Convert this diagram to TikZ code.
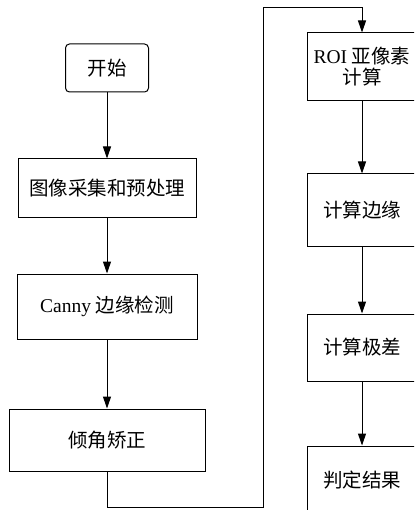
\documentclass[tikz,border=0pt]{standalone}
\usepackage{fontspec}
\setmainfont{Liberation Serif}
\newfontfamily\cjk{Noto Sans CJK SC}
\usetikzlibrary{arrows.meta}
\begin{document}
\begin{tikzpicture}[x=1pt,y=-1pt,
  box/.style={draw,line width=1pt,minimum height=#1,inner sep=0pt,align=center},
  arr/.style={line width=1pt,-{Triangle[length=12pt,width=8pt]}},
  every node/.style={font=\fontsize{19.5}{21}\selectfont}]
\useasboundingbox (0,0) rectangle (414,510);
\clip (0,0) rectangle (414,510);
\node[box=48pt,minimum width=83pt,rounded corners=4pt] (start) at (107,68) {\cjk 开始};
\node[box=59pt,minimum width=178pt] (pre) at (107,188.5) {\cjk 图像采集和预处理};
\node[box=65pt,minimum width=180pt] (canny) at (107,306.5) {Canny {\cjk 边缘检测}};
\node[box=62pt,minimum width=196pt] (tilt) at (107,440) {\cjk 倾角矫正};
\node[box=68pt,minimum width=110pt] (roi) at (362,67) {ROI {\cjk 亚像素}\\{\cjk 计算}};
\node[box=72pt,minimum width=110pt] (edge) at (362,210) {\cjk 计算边缘};
\node[box=67pt,minimum width=110pt] (range) at (362,347.5) {\cjk 计算极差};
\node[box=68pt,minimum width=110pt] (result) at (362,480) {\cjk 判定结果};
\coordinate (c1) at (107,507);
\coordinate (c2) at (263,507);
\coordinate (c3) at (263,8);
\coordinate (c4) at (362,8);
\draw[arr] (start) -- (pre);
\draw[arr] (pre) -- (canny);
\draw[arr] (canny) -- (tilt);
\draw[arr] (tilt.south) -- (c1) -- (c2) -- (c3) -- (c4) -- (roi.north);
\draw[arr] (roi) -- (edge);
\draw[arr] (edge) -- (range);
\draw[arr] (range) -- (result);
\end{tikzpicture}
\end{document}
